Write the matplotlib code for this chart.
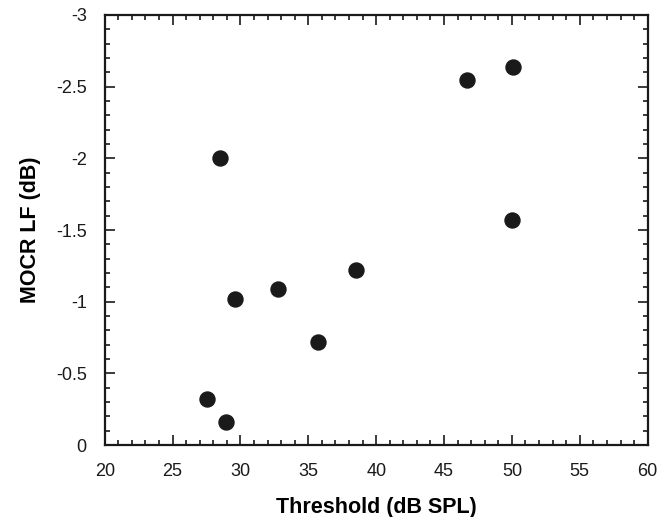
import numpy as np
import matplotlib
matplotlib.use("Agg")
import matplotlib.pyplot as plt
from matplotlib.ticker import MultipleLocator

plt.rcParams['font.family'] = ['Liberation Sans', 'DejaVu Sans']

# threshold (dB SPL) vs MOCR LF (dB)
threshold = [28.5, 46.7, 50.1, 50.0, 29.6, 32.8, 38.5, 35.7, 27.5, 28.9]
mocr_lf = [-2.00, -2.55, -2.64, -1.57, -1.02, -1.09, -1.22, -0.72, -0.32, -0.16]

xticks = [20, 25, 30, 35, 40, 45, 50, 55, 60]
yticks = [0, -0.5, -1, -1.5, -2, -2.5, -3]
ytick_labels = ['0', '-0.5', '-1', '-1.5', '-2', '-2.5', '-3']

fig = plt.figure(figsize=(6.67, 5.17), dpi=100)
ax = fig.add_axes([0.157, 0.139, 0.814, 0.832])

ax.plot(threshold, mocr_lf, 'o', color='#1a1a1a', markersize=10.8, linestyle='none')

ax.set_xlim(20, 60)
ax.set_ylim(0, -3)
ax.set_xticks(xticks)
ax.set_xticklabels([str(t) for t in xticks])
ax.set_yticks(yticks)
ax.set_yticklabels(ytick_labels)
ax.xaxis.set_minor_locator(MultipleLocator(1))
ax.yaxis.set_minor_locator(MultipleLocator(0.1))

ax.tick_params(which='both', direction='in', top=True, right=True, width=1.2, colors='#1a1a1a')
ax.tick_params(which='major', length=7, labelsize=13)
ax.tick_params(which='minor', length=3.5)
ax.tick_params(axis='x', which='major', pad=13)
ax.tick_params(axis='y', which='major', pad=13)
for s in ax.spines.values():
    s.set_linewidth(1.6)
    s.set_color('#1a1a1a')

ax.set_xlabel('Threshold (dB SPL)', fontsize=15.5, fontweight='bold')
ax.set_ylabel('MOCR LF (dB)', fontsize=15.5, fontweight='bold')
ax.xaxis.set_label_coords(0.5, -0.12)
ax.yaxis.set_label_coords(-0.117, 0.5)

fig.savefig('out.png', dpi=100)
